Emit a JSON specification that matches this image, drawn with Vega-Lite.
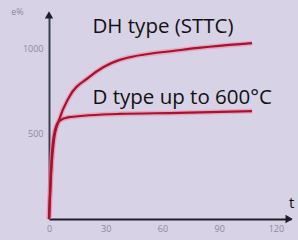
{
  "$schema": "https://vega.github.io/schema/vega-lite/v6.json",
  "width": 242,
  "height": 205,
  "autosize": {"type": "none"},
  "padding": {"left": 49, "top": 14, "right": 7, "bottom": 21},
  "background": "#d7d2e5",
  "config": {"view": {"stroke": null}, "font": "Open Sans"},
  "datasets": {
    "curves": [
      {"series": "DH", "t": 0, "e": 0},
      {"series": "DH", "t": 1.06, "e": 257},
      {"series": "DH", "t": 2.6, "e": 462},
      {"series": "DH", "t": 5.3, "e": 579},
      {"series": "DH", "t": 10.6, "e": 713},
      {"series": "DH", "t": 21.2, "e": 830},
      {"series": "DH", "t": 37, "e": 930},
      {"series": "DH", "t": 68.8, "e": 988},
      {"series": "DH", "t": 107.4, "e": 1029},
      {"series": "D", "t": 0, "e": 0},
      {"series": "D", "t": 1.06, "e": 287},
      {"series": "D", "t": 2.6, "e": 491},
      {"series": "D", "t": 5.3, "e": 573},
      {"series": "D", "t": 10.6, "e": 596},
      {"series": "D", "t": 37, "e": 615},
      {"series": "D", "t": 68.8, "e": 621},
      {"series": "D", "t": 107.4, "e": 632}
    ],
    "labels": [
      {"label": "DH type (STTC)", "t": 23, "e": 1123},
      {"label": "D type up to 600°C", "t": 23, "e": 708}
    ],
    "arrows": [
      {"t": 0, "e": 1195, "shape": "triangle-up"},
      {"t": 127, "e": 0, "shape": "triangle-right"}
    ],
    "smallTitles": [
      {"label": "e%", "t": -20, "e": 1210}
    ],
    "bigTitles": [
      {"label": "t", "t": 127, "e": 94}
    ]
  },
  "layer": [
    {
      "data": {"name": "curves"},
      "mark": {"type": "line", "color": "#f07a95", "strokeWidth": 5, "opacity": 0.45, "interpolate": "monotone"},
      "encoding": {
        "x": {"field": "t", "type": "quantitative", "scale": {"domain": [0, 128], "nice": false},
          "axis": {"values": [0, 30, 60, 90, 120], "format": "d", "title": null, "grid": false, "ticks": false, "domainColor": "#1e1e2a", "domainWidth": 2, "labelColor": "#8a8a99", "labelFontSize": 9, "labelPadding": 5, "labelFlush": false}},
        "y": {"field": "e", "type": "quantitative", "scale": {"domain": [0, 1200], "nice": false},
          "axis": {"values": [500, 1000], "format": "d", "title": null, "grid": false, "ticks": false, "domainColor": "#3a4052", "domainWidth": 2, "labelColor": "#8a8a99", "labelFontSize": 9, "labelPadding": 6}},
        "detail": {"field": "series"}
      }
    },
    {
      "data": {"name": "curves"},
      "mark": {"type": "line", "color": "#a8122f", "strokeWidth": 2.2, "interpolate": "monotone"},
      "encoding": {
        "x": {"field": "t", "type": "quantitative"},
        "y": {"field": "e", "type": "quantitative"},
        "detail": {"field": "series"}
      }
    },
    {
      "data": {"name": "arrows"},
      "mark": {"type": "point", "filled": true, "color": "#1e1e2a", "opacity": 1, "size": 70},
      "encoding": {
        "x": {"field": "t", "type": "quantitative"},
        "y": {"field": "e", "type": "quantitative"},
        "shape": {"field": "shape", "type": "nominal", "scale": null}
      }
    },
    {
      "data": {"name": "labels"},
      "mark": {"type": "text", "align": "left", "baseline": "middle", "fontSize": 20.5, "color": "#111111"},
      "encoding": {
        "x": {"field": "t", "type": "quantitative"},
        "y": {"field": "e", "type": "quantitative"},
        "text": {"field": "label"}
      }
    },
    {
      "data": {"name": "smallTitles"},
      "mark": {"type": "text", "align": "left", "baseline": "middle", "fontSize": 9, "color": "#8a8a99"},
      "encoding": {
        "x": {"field": "t", "type": "quantitative"},
        "y": {"field": "e", "type": "quantitative"},
        "text": {"field": "label"}
      }
    },
    {
      "data": {"name": "bigTitles"},
      "mark": {"type": "text", "align": "left", "baseline": "middle", "fontSize": 15, "color": "#111111"},
      "encoding": {
        "x": {"field": "t", "type": "quantitative"},
        "y": {"field": "e", "type": "quantitative"},
        "text": {"field": "label"}
      }
    }
  ]
}
